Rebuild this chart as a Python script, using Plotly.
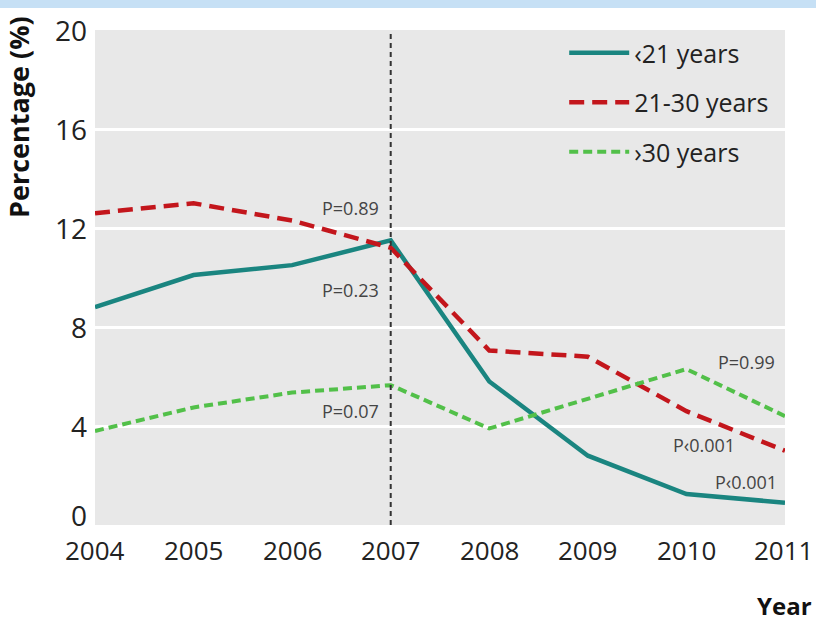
import plotly.graph_objects as go

years = [2004, 2005, 2006, 2007, 2008, 2009, 2010, 2011]
under_21 = [8.8, 10.1, 10.5, 11.5, 5.8, 2.8, 1.25, 0.9]
age_21_30 = [12.6, 13.0, 12.3, 11.2, 7.05, 6.8, 4.6, 3.0]
over_30 = [3.8, 4.75, 5.35, 5.65, 3.9, 5.1, 6.3, 4.4]

series_names = ["\u203921 years", "21-30 years", "\u203a30 years"]
y_ticks = [0, 4, 8, 12, 16, 20]

# P values: (year, value, text)
p_labels = [
    (2007, 12.8, "P=0.89"),
    (2007, 9.5, "P=0.23"),
    (2007, 4.6, "P=0.07"),
    (2010, 6.6, "P=0.99"),
    (2010, 3.25, "P\u20390.001"),
    (2010, 1.75, "P\u20390.001"),
]
p_xshift = [-40, -40, -40, 60, 18, 60]

FONT = "Open Sans, sans-serif"
TEAL = "#1a8580"
RED = "#c3161c"
GREEN = "#52c049"

fig = go.Figure()
fig.add_trace(go.Scatter(x=years, y=under_21, mode="lines", name=series_names[0],
                         line=dict(color=TEAL, width=4.5), legendgroup="a"))
fig.add_trace(go.Scatter(x=years, y=age_21_30, mode="lines", name=series_names[1],
                         line=dict(color=RED, width=4.5, dash="15px,8px"), legendgroup="b"))
fig.add_trace(go.Scatter(x=years, y=over_30, mode="lines", name=series_names[2],
                         line=dict(color=GREEN, width=4, dash="9px,5px"), legendgroup="c"))

# policy change marker at 2007
fig.add_shape(type="line", xref="x", yref="y", x0=2007, x1=2007, y0=0, y1=20,
              line=dict(color="#333333", width=2, dash="5px,4px"), layer="above")

# thin blue band across the top of the page
fig.add_shape(type="rect", xref="paper", yref="paper",
              x0=-95 / 690, x1=1 + 31 / 690, y0=1 + 22 / 495, y1=1 + 31 / 495,
              fillcolor="#c6e0f5", line=dict(width=0))

annotations = []
for v in y_ticks:
    annotations.append(dict(x=0, xref="paper", y=v, yref="y", text=str(v),
                            showarrow=False, xanchor="right", yanchor="middle",
                            xshift=-6, yshift=10 if v == 0 else 0,
                            font=dict(family=FONT, size=28, color="#222222")))
for yr in years:
    annotations.append(dict(x=yr, xref="x", y=0, yref="paper", text=str(yr),
                            showarrow=False, xanchor="center", yanchor="top",
                            yshift=-5, xshift=-2 if yr == years[-1] else 0,
                            font=dict(family=FONT, size=26, color="#222222")))
for (yr, val, txt), dx in zip(p_labels, p_xshift):
    annotations.append(dict(x=yr, y=val, text=txt, showarrow=False, xshift=dx,
                            font=dict(family=FONT, size=18, color="#444444")))
annotations.append(dict(x=1 + 29 / 690, xref="paper", y=-80 / 495, yref="paper",
                        text="<b>Year</b>", showarrow=False, xanchor="right",
                        yanchor="middle",
                        font=dict(family=FONT, size=24, color="#111111")))
annotations.append(dict(x=-77 / 690, xref="paper", y=1 + 16 / 495, yref="paper",
                        text="<b>Percentage (%)</b>", showarrow=False, textangle=-90,
                        xanchor="center", yanchor="top",
                        font=dict(family=FONT, size=27, color="#111111")))

fig.update_layout(
    width=816, height=621,
    margin=dict(l=95, r=31, t=30, b=96),
    paper_bgcolor="white",
    plot_bgcolor="#e8e8e8",
    showlegend=True,
    legend=dict(x=0.68, y=1.0, xanchor="left", yanchor="top",
                bgcolor="rgba(0,0,0,0)", tracegroupgap=14, itemwidth=60,
                font=dict(family=FONT, size=25, color="#222222")),
    annotations=annotations,
    xaxis=dict(range=[2004, 2011], tickvals=years, showticklabels=False,
               showgrid=False, zeroline=False, showline=False, ticks=""),
    yaxis=dict(range=[0, 20], tickvals=[4, 8, 12, 16], showticklabels=False,
               showgrid=True, gridcolor="white", gridwidth=3, zeroline=False,
               showline=False, ticks=""),
)

fig.write_html("out.html")
